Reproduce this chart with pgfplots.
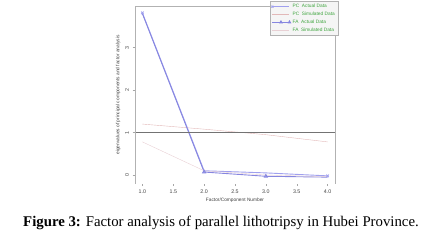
\documentclass[border=0pt]{standalone}
\usepackage{fontspec}
\setmainfont{Liberation Serif}
\newfontfamily\chartfont{Liberation Sans}
\usepackage{pgfplots}
\pgfplotsset{compat=1.18}
\definecolor{pcblue}{HTML}{A0A0EE}
\definecolor{fablue}{HTML}{8686E0}
\definecolor{pcsim}{HTML}{E2B8B8}
\definecolor{fasim}{HTML}{E8D0D4}
\definecolor{leggreen}{HTML}{3FA53F}
\begin{document}
\begin{tikzpicture}
\path[use as bounding box] (0,0) rectangle (439pt,244pt);
\begin{axis}[
  at={(135pt,60.5pt)}, anchor=south west,
  scale only axis, width=200pt, height=177pt,
  xmin=0.88, xmax=4.12, ymin=-0.2, ymax=3.97,
  axis line style={draw=none},
  xtick={1,1.5,2,2.5,3,3.5,4},
  ytick={0,1,2,3},
  tick align=outside, tick pos=left,
  major tick length=2.5pt,
  tick style={gray!70, thin},
  /pgf/number format/assume math mode=true,
  xticklabel style={font=\chartfont\fontsize{5.3}{6}\selectfont, text=black!75,
     /pgf/number format/.cd, fixed, fixed zerofill, precision=1},
  yticklabel style={font=\chartfont\fontsize{5.3}{6}\selectfont, text=black!75, rotate=90, anchor=south},
  xlabel={Factor/Component Number},
  ylabel={eigenvalues of principal components and factor analysis},
  xlabel style={font=\chartfont\fontsize{4.8}{5}\selectfont, text=black!75, yshift=2pt},
  ylabel style={font=\chartfont\fontsize{4.8}{5}\selectfont, text=black!75, yshift=-2pt},
  legend style={at={(1.015,1.031)}, anchor=north east, font=\chartfont\fontsize{4.8}{5.4}\selectfont,
     text=leggreen, fill=black!4, draw=black!30, inner sep=1pt, row sep=-1.2pt,
     legend cell align=left},
  legend image post style={mark size=1.5pt},
  clip=false,
]
\addplot[pcblue, line width=0.9pt, mark=x, mark options={solid, scale=0.9}, mark indices={1,4}] coordinates {(1,3.82) (2,0.10) (3,0.05) (4,-0.02)};
\addlegendentry{PC\ \ Actual Data}
\addplot[pcsim, thin] coordinates {(1,1.20) (2,1.08) (3,0.95) (4,0.78)};
\addlegendentry{PC\ \ Simulated Data}
\addplot[fablue, line width=0.9pt, mark=triangle, mark options={solid, scale=0.9}, mark indices={2,3}] coordinates {(1,3.80) (2,0.07) (3,-0.03) (4,-0.05)};
\addlegendentry{FA\ \ Actual Data}
\addplot[fasim, thin] coordinates {(1,0.78) (2,0.10) (3,0.00) (4,-0.04)};
\addlegendentry{FA\ \ Simulated Data}
\addplot[black!55, thin, forget plot] coordinates {(0.88,1) (4.12,1)};
\draw[gray!60, thin] (rel axis cs:0,0) -- (rel axis cs:0,1) -- (rel axis cs:1,1) -- (rel axis cs:1,0);
\end{axis}
\node[font=\fontsize{14.8}{16}\selectfont] at (221pt,21pt) {\textbf{Figure 3:} Factor analysis of parallel lithotripsy in Hubei Province.};
\end{tikzpicture}
\end{document}
